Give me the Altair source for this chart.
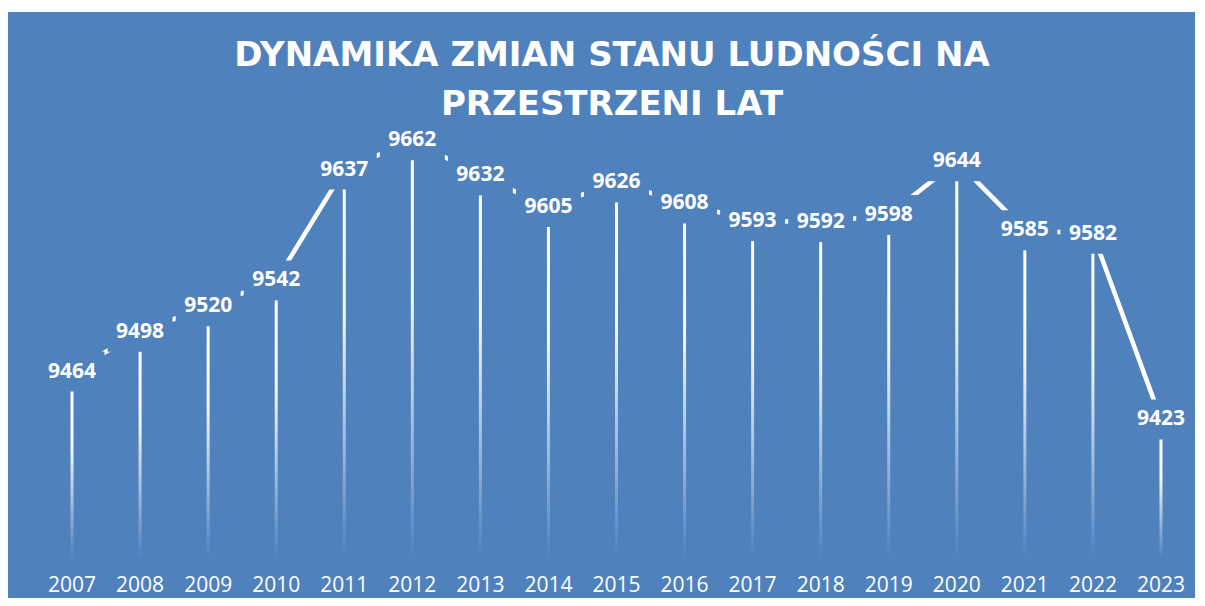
import altair as alt
import pandas as pd

years = [str(y) for y in range(2007, 2024)]
population = [9464, 9498, 9520, 9542, 9637, 9662, 9632, 9605, 9626, 9608,
              9593, 9592, 9598, 9644, 9585, 9582, 9423]
title_lines = ["DYNAMIKA ZMIAN STANU LUDNOŚCI NA", "PRZESTRZENI LAT"]

BG = "#4F81BD"
df = pd.DataFrame({"year": years, "value": population})

x = alt.X("year:N", sort=years,
          scale=alt.Scale(paddingInner=0, paddingOuter=0),
          axis=alt.Axis(title=None, labelAngle=0, ticks=False, domain=False, grid=False,
                        labelColor="#ffffff", labelFont="Open Sans", labelFontSize=21,
                        labelBaseline="middle", labelPadding=5, zindex=2))
y = alt.Y("value:Q", scale=alt.Scale(domain=[9300, 9700], nice=False, zero=False),
          axis=None)

base = alt.Chart(df).encode(x=x)

panel = alt.Chart(pd.DataFrame({"t": [0]})).mark_rect(color=BG).encode(
    x=alt.value(-30), x2=alt.value(1157), y=alt.value(-101), y2=alt.value(485))

grad = alt.LinearGradient(
    gradient="linear", x1=0, x2=0, y1=0, y2=1,
    stops=[alt.GradientStop(offset=0, color="#ffffff"),
           alt.GradientStop(offset=0.35, color="#f4f7fb"),
           alt.GradientStop(offset=1, color=BG)])

drops = base.mark_bar(size=3, color=grad).encode(
    y=y, y2=alt.datum(9318))

line = base.mark_line(color="#ffffff", strokeWidth=4.5, yOffset=-17,
                      strokeCap="butt").encode(y=y)

boxes = base.mark_point(
    shape="M-1,-0.615L1,-0.615L1,0.615L-1,0.615Z", size=4225, filled=True,
    fill=BG, opacity=1, strokeWidth=0, yOffset=-17).encode(y=y)

labels = base.mark_text(color="#ffffff", font="Open Sans", fontWeight="bold",
                        fontSize=21, baseline="middle", dy=-17).encode(
    y=y, text=alt.Text("value:Q", format="d"))

t1 = alt.Chart(pd.DataFrame({"t": [title_lines[0]]})).mark_text(
    color="#ffffff", font="DejaVu Sans", fontWeight="bold", fontSize=34,
    baseline="middle", align="center").encode(
    text="t:N", x=alt.value(574), y=alt.value(-57))
t2 = alt.Chart(pd.DataFrame({"t": [title_lines[1]]})).mark_text(
    color="#ffffff", font="DejaVu Sans", fontWeight="bold", fontSize=34,
    baseline="middle", align="center").encode(
    text="t:N", x=alt.value(574), y=alt.value(-8))

chart = alt.layer(panel, drops, line, boxes, labels, t1, t2).properties(
    width=1157, height=467,
    autosize=alt.AutoSizeParams(type="none"),
    padding={"left": 30, "top": 105, "right": 0, "bottom": 18},
    background="#ffffff",
).configure_view(stroke=None)

chart.save("out.html", embed_options={"renderer": "svg", "actions": False})
